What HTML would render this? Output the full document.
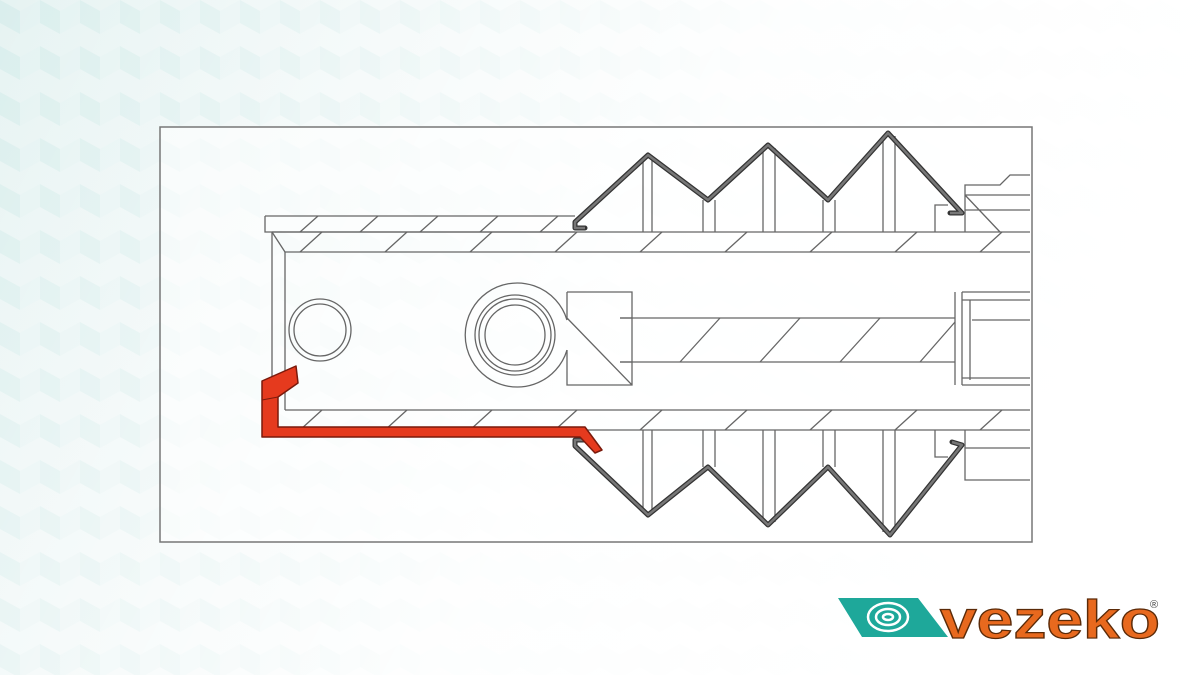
<!DOCTYPE html>
<html><head><meta charset="utf-8"><style>
html,body{margin:0;padding:0;width:1200px;height:675px;overflow:hidden;background:linear-gradient(120deg,#e6f3f2 0%,#f2f8f8 40%,#fbfdfd 70%,#ffffff 100%);font-family:"Liberation Sans",sans-serif}
</style></head><body>
<svg width="1200" height="675" viewBox="0 0 1200 675" xmlns="http://www.w3.org/2000/svg">
<defs>
<pattern id="cub" width="40" height="46" patternUnits="userSpaceOnUse">
<path d="M0 0 L20 11 L20 34 L0 23 Z" fill="#d2ebea" opacity="0.6"/>
<path d="M20 11 L40 0 L40 23 L20 34 Z" fill="#e3f2f1" opacity="0.6"/>
</pattern>
<linearGradient id="fade" x1="0" y1="0" x2="1" y2="0.3"><stop offset="0" stop-color="#fff" stop-opacity="0"/><stop offset="0.6" stop-color="#fff" stop-opacity="0.9"/><stop offset="1" stop-color="#fff" stop-opacity="1"/></linearGradient>
</defs>
<rect width="1200" height="675" fill="url(#cub)"/>
<rect width="1200" height="675" fill="url(#fade)"/>
<rect x="160" y="127" width="872" height="415" fill="#fff" fill-opacity="0.55" stroke="#777" stroke-width="1.5"/>
<g fill="none" stroke="#666" stroke-width="1.3">
<path d="M265 216 L575 216 M265 216 L265 232 L575 232"/>
<path d="M272 232 L1030 232 M285 252 L1030 252 M272 232 L285 252"/>
<path d="M272 232 L272 430 M285 252 L285 410"/>
<path d="M285 410 L1030 410 M272 430 L1030 430"/>
<path d="M300 232 L318 216 M360 232 L378 216 M420 232 L438 216 M480 232 L498 216 M540 232 L558 216"/>
<path d="M300 252 L322 232 M385 252 L407 232 M470 252 L492 232 M555 252 L577 232 M640 252 L662 232 M725 252 L747 232 M810 252 L832 232 M895 252 L917 232 M980 252 L1002 232"/>
<path d="M300 430 L322 410 M385 430 L407 410 M470 430 L492 410 M555 430 L577 410 M640 430 L662 410 M725 430 L747 410 M810 430 L832 410 M895 430 L917 410 M980 430 L1002 410"/>
<circle cx="320" cy="330" r="31"/><circle cx="320" cy="330" r="26"/>
<path d="M567 350 A52 52 0 1 1 567 320"/>
<circle cx="515" cy="335" r="40"/><circle cx="515" cy="335" r="36"/><circle cx="515" cy="335" r="30"/>
<path d="M567 292 L632 292 L632 318 L620 318 M567 292 L567 318 M567 350 L567 385 L632 385 L632 362 L620 362 M567 318 L632 385"/>
<path d="M620 318 L955 318 M620 362 L955 362 M632 318 L632 362"/>
<path d="M680 362 L720 318 M760 362 L800 318 M840 362 L880 318 M920 362 L955 322"/>
<path d="M955 292 L955 385 M962 292 L962 385 M970 300 L970 380 M962 292 L1030 292 M962 300 L1030 300 M962 385 L1030 385 M962 378 L1030 378 M972 320 L1030 320"/>
<path d="M643 158 L643 232 M652 158 L652 232 M703 200 L703 232 M715 200 L715 232 M763 148 L763 232 M775 148 L775 232 M823 200 L823 232 M835 200 L835 232 M883 136 L883 232 M895 136 L895 232"/>
<path d="M643 430 L643 512 M652 430 L652 512 M703 430 L703 467 M715 430 L715 467 M763 430 L763 522 M775 430 L775 522 M823 430 L823 467 M835 430 L835 467 M883 430 L883 532 M895 430 L895 532"/>
<path d="M935 232 L935 205 L948 205 M965 232 L965 185 L1000 185 L1010 175 L1030 175 M965 195 L1030 195 M965 210 L1030 210 M965 195 L1000 232"/>
<path d="M935 430 L935 457 L948 457 M965 430 L965 480 L1030 480 M965 448 L1030 448"/>
</g>
<g fill="none" stroke="#333" stroke-width="5" stroke-linejoin="round" stroke-linecap="round">
<path d="M585 228 L575 228 L575 222 L648 155 L708 200 L768 145 L828 200 L888 133 L962 213 L950 213"/>
<path d="M585 440 L575 440 L575 446 L648 515 L708 467 L768 525 L828 467 L890 535 L962 445 L952 442"/>
</g>
<g fill="none" stroke="#777" stroke-width="2.5" stroke-linejoin="round">
<path d="M585 228 L575 228 L575 222 L648 155 L708 200 L768 145 L828 200 L888 133 L962 213 L950 213"/>
<path d="M585 440 L575 440 L575 446 L648 515 L708 467 L768 525 L828 467 L890 535 L962 445 L952 442"/>
</g>
<path d="M262 381 L296 366 L298 383 L278 397 L278 427 L585 427 L602 450 L595 453 L580 437 L262 437 Z" fill="#e53a1e" stroke="#7a1a0c" stroke-width="1.5" stroke-linejoin="round"/>
<path d="M278 397 L262 400" stroke="#7a1a0c" stroke-width="1"/>
<!-- logo -->
<path d="M838 598 L918 598 L948 637 L862 637 Z" fill="#1ea89a"/>
<g fill="none" stroke="#fff" stroke-width="2.5">
<ellipse cx="888" cy="617" rx="20" ry="14"/><ellipse cx="888" cy="617" rx="12" ry="8"/><ellipse cx="888" cy="617" rx="5" ry="3"/>
</g>
<text x="940" y="638" textLength="220" lengthAdjust="spacingAndGlyphs" font-family="Liberation Sans,sans-serif" font-weight="bold" font-size="54" fill="#e8691e" stroke="#5a2a08" stroke-width="1.2">vezeko</text>
<text x="1150" y="608" font-family="Liberation Sans,sans-serif" font-size="11" fill="#444">®</text>
</svg>
</body></html>
